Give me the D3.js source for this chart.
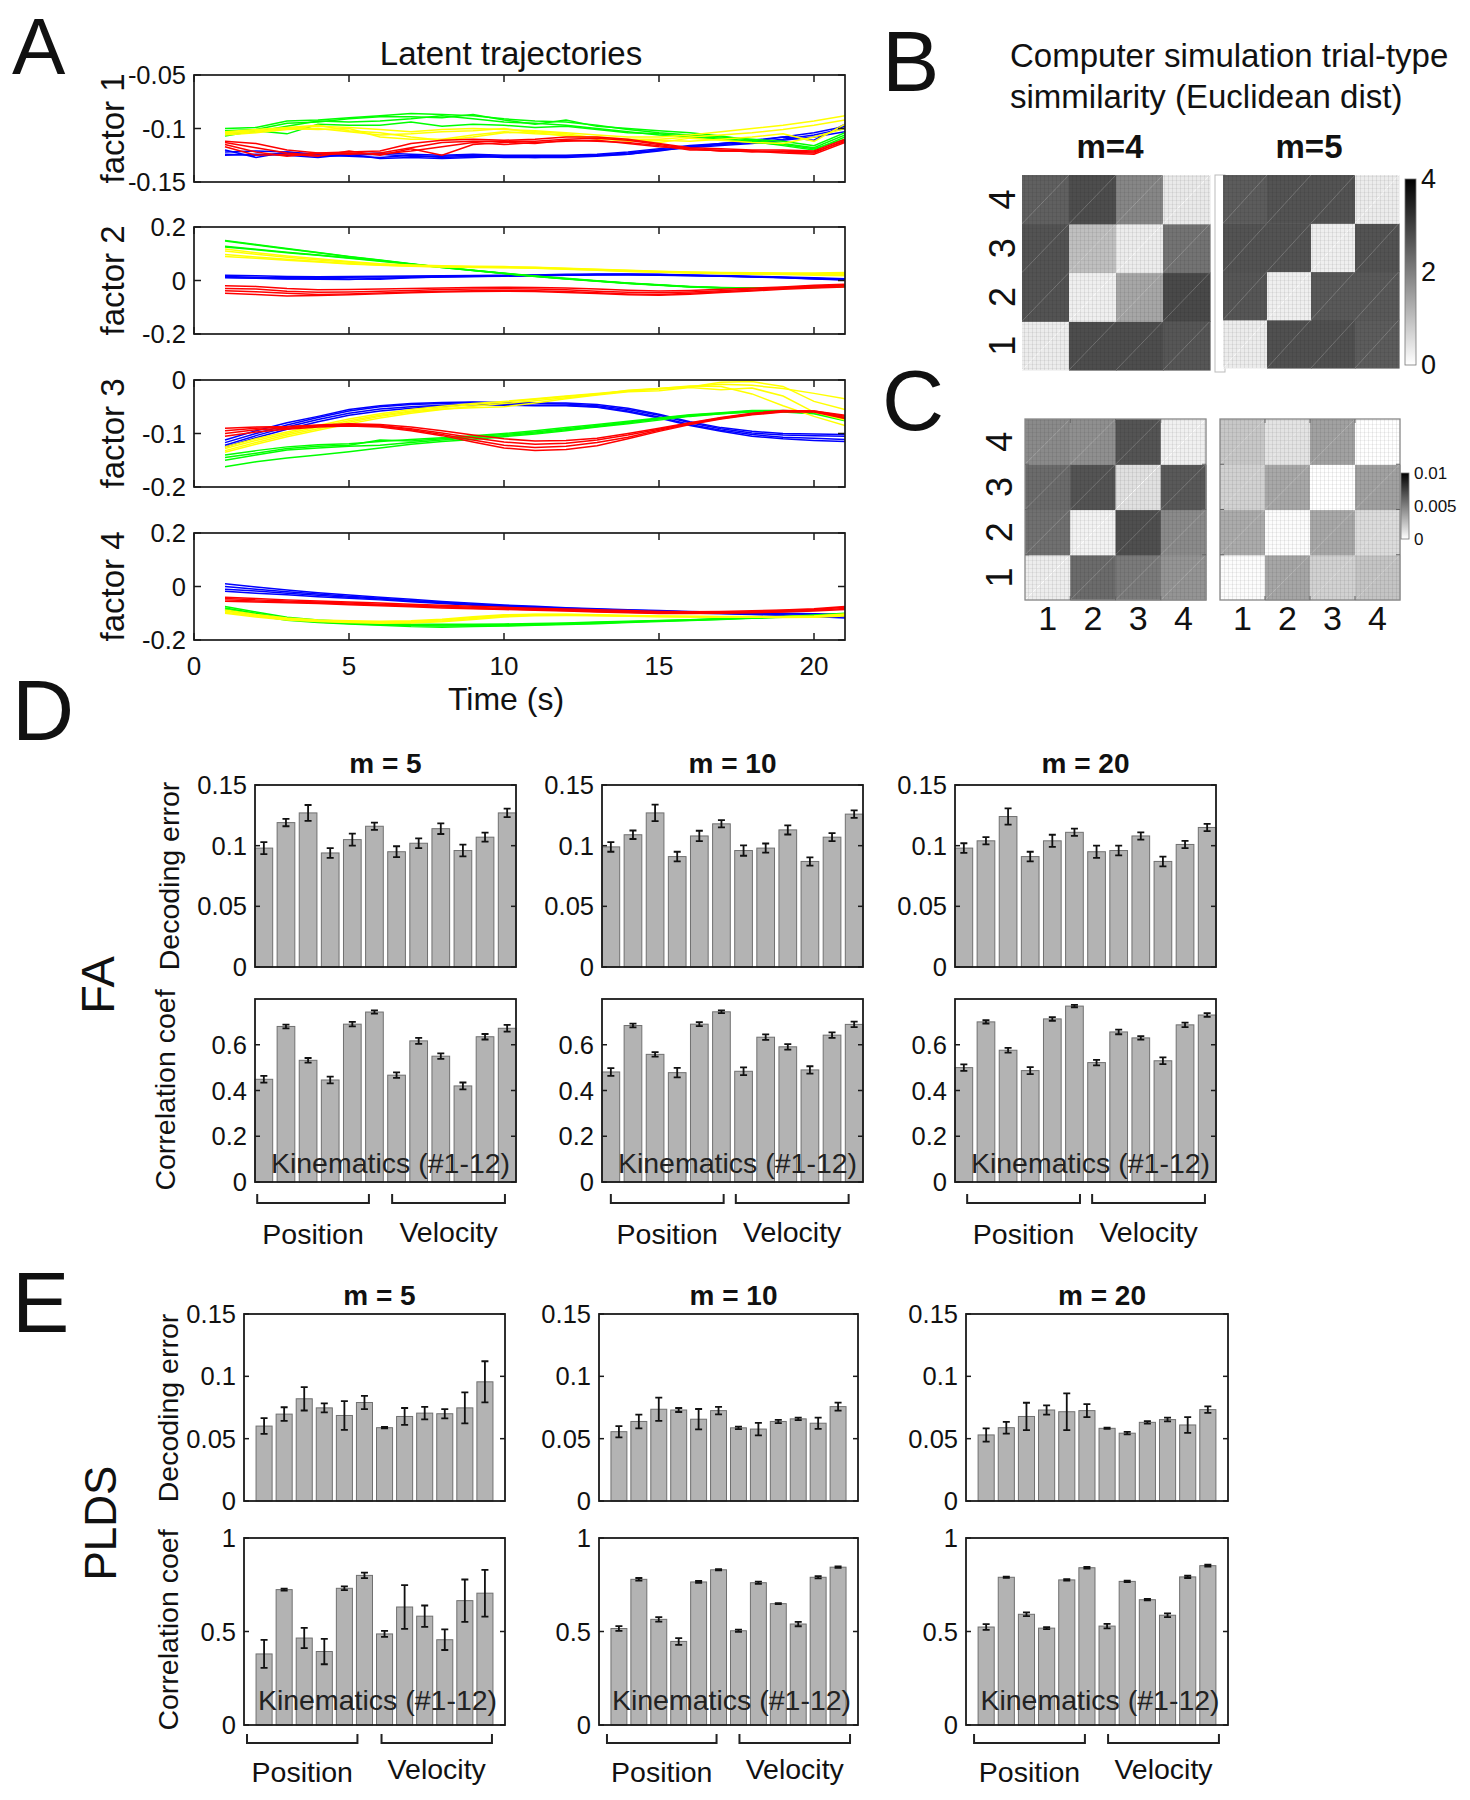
<!DOCTYPE html>
<html><head><meta charset="utf-8">
<script src="https://cdn.jsdelivr.net/npm/d3@7"></script>
<style>
body{margin:0;background:#fff}
svg{display:block}
text{font-family:'Liberation Sans',Arial,Helvetica,sans-serif;fill:#111}
</style>
</head><body><script>
// ===================== DATA =====================
const timeSteps=[1,2,3,4,5,6,7,8,9,10,11,12,13,14,15,16,17,18,19,20,21];
const timeTicks=[0,5,10,15,20];
const factorLabels=["factor 1","factor 2","factor 3","factor 4"];
const factorTicks=[[-0.15,-0.1,-0.05],[-0.2,0,0.2],[-0.2,-0.1,0],[-0.2,0,0.2]];
const factorDomains=[[-0.15,-0.05],[-0.2,0.2],[-0.2,0],[-0.2,0.2]];

// factor 1
const f1Blue=[
[-0.122,-0.121,-0.122,-0.124,-0.124,-0.123,-0.124,-0.125,-0.124,-0.125,-0.125,-0.125,-0.124,-0.122,-0.119,-0.116,-0.114,-0.112,-0.108,-0.104,-0.098],
[-0.124,-0.125,-0.123,-0.126,-0.125,-0.124,-0.126,-0.126,-0.125,-0.126,-0.126,-0.126,-0.125,-0.123,-0.120,-0.117,-0.115,-0.113,-0.110,-0.106,-0.100],
[-0.120,-0.127,-0.122,-0.125,-0.126,-0.127,-0.125,-0.127,-0.126,-0.127,-0.127,-0.127,-0.126,-0.124,-0.121,-0.117,-0.114,-0.111,-0.108,-0.111,-0.096],
[-0.125,-0.124,-0.125,-0.127,-0.124,-0.128,-0.127,-0.128,-0.127,-0.126,-0.127,-0.126,-0.125,-0.124,-0.120,-0.118,-0.116,-0.114,-0.111,-0.108,-0.103]];
const f1Green=[
[-0.100,-0.099,-0.093,-0.092,-0.090,-0.088,-0.086,-0.087,-0.088,-0.091,-0.093,-0.094,-0.097,-0.101,-0.104,-0.106,-0.108,-0.110,-0.112,-0.116,-0.104],
[-0.102,-0.101,-0.095,-0.094,-0.091,-0.089,-0.089,-0.090,-0.087,-0.092,-0.096,-0.092,-0.098,-0.100,-0.102,-0.104,-0.107,-0.111,-0.114,-0.118,-0.106],
[-0.105,-0.103,-0.098,-0.093,-0.094,-0.093,-0.091,-0.088,-0.091,-0.094,-0.095,-0.097,-0.100,-0.103,-0.106,-0.107,-0.109,-0.112,-0.116,-0.120,-0.108],
[-0.107,-0.102,-0.105,-0.096,-0.097,-0.097,-0.094,-0.098,-0.096,-0.097,-0.099,-0.098,-0.101,-0.104,-0.105,-0.108,-0.110,-0.113,-0.115,-0.119,-0.110]];
const f1Yellow=[
[-0.104,-0.102,-0.100,-0.098,-0.099,-0.101,-0.103,-0.101,-0.100,-0.101,-0.102,-0.104,-0.106,-0.108,-0.108,-0.106,-0.103,-0.100,-0.097,-0.093,-0.088],
[-0.106,-0.104,-0.101,-0.100,-0.103,-0.106,-0.105,-0.103,-0.102,-0.100,-0.104,-0.107,-0.108,-0.110,-0.110,-0.108,-0.106,-0.104,-0.101,-0.097,-0.092],
[-0.103,-0.101,-0.099,-0.097,-0.102,-0.104,-0.108,-0.111,-0.108,-0.104,-0.103,-0.105,-0.109,-0.112,-0.111,-0.112,-0.110,-0.108,-0.105,-0.112,-0.096],
[-0.105,-0.103,-0.100,-0.101,-0.100,-0.108,-0.110,-0.110,-0.106,-0.103,-0.105,-0.106,-0.110,-0.111,-0.113,-0.109,-0.111,-0.113,-0.114,-0.108,-0.100]];
const f1Red=[
[-0.112,-0.114,-0.120,-0.123,-0.122,-0.121,-0.114,-0.111,-0.110,-0.111,-0.110,-0.108,-0.108,-0.110,-0.114,-0.118,-0.119,-0.120,-0.120,-0.121,-0.110],
[-0.115,-0.122,-0.126,-0.123,-0.124,-0.123,-0.118,-0.113,-0.112,-0.112,-0.112,-0.110,-0.109,-0.111,-0.115,-0.119,-0.121,-0.121,-0.122,-0.123,-0.111],
[-0.117,-0.125,-0.124,-0.126,-0.121,-0.125,-0.119,-0.125,-0.115,-0.113,-0.114,-0.111,-0.112,-0.113,-0.116,-0.120,-0.120,-0.122,-0.121,-0.122,-0.112],
[-0.113,-0.118,-0.123,-0.125,-0.123,-0.124,-0.121,-0.117,-0.113,-0.115,-0.113,-0.112,-0.111,-0.114,-0.117,-0.119,-0.121,-0.121,-0.123,-0.124,-0.113]];
// factor 2
const f2Blue=[
[0.020,0.018,0.015,0.014,0.015,0.016,0.017,0.018,0.019,0.020,0.021,0.023,0.024,0.024,0.023,0.021,0.019,0.016,0.013,0.010,0.007],
[0.015,0.012,0.010,0.010,0.012,0.013,0.014,0.016,0.017,0.018,0.020,0.021,0.022,0.022,0.021,0.019,0.017,0.014,0.011,0.008,0.004],
[0.010,0.008,0.006,0.005,0.004,0.008,0.011,0.013,0.015,0.016,0.018,0.020,0.021,0.021,0.020,0.018,0.016,0.013,0.010,0.006,0.002],
[0.012,0.009,0.007,0.008,0.006,0.005,0.010,0.013,0.015,0.017,0.019,0.020,0.022,0.023,0.022,0.020,0.017,0.014,0.011,0.007,0.003]];
const f2Green=[
[0.150,0.135,0.120,0.105,0.090,0.077,0.063,0.050,0.038,0.027,0.016,0.007,-0.002,-0.010,-0.017,-0.023,-0.027,-0.029,-0.028,-0.025,-0.020],
[0.148,0.133,0.118,0.104,0.089,0.076,0.062,0.049,0.037,0.026,0.015,0.006,-0.003,-0.011,-0.018,-0.024,-0.028,-0.030,-0.029,-0.026,-0.021],
[0.128,0.117,0.106,0.095,0.085,0.074,0.062,0.050,0.038,0.027,0.017,0.008,-0.001,-0.009,-0.016,-0.022,-0.026,-0.028,-0.028,-0.025,-0.020],
[0.125,0.115,0.104,0.094,0.083,0.072,0.061,0.049,0.037,0.026,0.016,0.007,-0.002,-0.010,-0.017,-0.023,-0.027,-0.029,-0.029,-0.026,-0.022]];
const f2Yellow=[
[0.118,0.104,0.092,0.081,0.071,0.063,0.058,0.055,0.053,0.052,0.050,0.046,0.042,0.038,0.035,0.032,0.030,0.029,0.028,0.028,0.030],
[0.110,0.098,0.087,0.077,0.068,0.061,0.056,0.053,0.051,0.050,0.049,0.045,0.041,0.037,0.034,0.031,0.029,0.027,0.026,0.025,0.027],
[0.097,0.088,0.079,0.071,0.064,0.058,0.054,0.051,0.050,0.049,0.047,0.043,0.039,0.035,0.032,0.029,0.027,0.025,0.024,0.023,0.022],
[0.090,0.083,0.076,0.069,0.062,0.057,0.053,0.050,0.049,0.048,0.046,0.042,0.038,0.034,0.031,0.028,0.025,0.023,0.022,0.020,0.018]];
const f2Red=[
[-0.020,-0.022,-0.030,-0.035,-0.034,-0.032,-0.030,-0.028,-0.026,-0.025,-0.026,-0.028,-0.032,-0.036,-0.039,-0.037,-0.033,-0.029,-0.024,-0.018,-0.014],
[-0.030,-0.032,-0.040,-0.044,-0.043,-0.040,-0.037,-0.034,-0.032,-0.031,-0.032,-0.035,-0.040,-0.044,-0.046,-0.043,-0.038,-0.032,-0.026,-0.021,-0.017],
[-0.038,-0.042,-0.048,-0.052,-0.050,-0.047,-0.043,-0.040,-0.038,-0.037,-0.038,-0.041,-0.046,-0.050,-0.052,-0.048,-0.042,-0.036,-0.030,-0.024,-0.020],
[-0.048,-0.052,-0.058,-0.056,-0.053,-0.050,-0.046,-0.043,-0.041,-0.040,-0.041,-0.045,-0.049,-0.053,-0.055,-0.051,-0.045,-0.039,-0.033,-0.028,-0.024]];
// factor 3
const f3Blue=[
[-0.112,-0.095,-0.080,-0.068,-0.055,-0.048,-0.044,-0.042,-0.041,-0.042,-0.043,-0.043,-0.046,-0.053,-0.064,-0.078,-0.089,-0.096,-0.100,-0.101,-0.102],
[-0.117,-0.100,-0.084,-0.070,-0.058,-0.050,-0.046,-0.044,-0.042,-0.043,-0.044,-0.045,-0.048,-0.055,-0.066,-0.080,-0.091,-0.099,-0.103,-0.104,-0.105],
[-0.122,-0.104,-0.088,-0.074,-0.062,-0.054,-0.050,-0.047,-0.045,-0.046,-0.047,-0.047,-0.050,-0.058,-0.069,-0.083,-0.094,-0.102,-0.107,-0.109,-0.111],
[-0.125,-0.108,-0.092,-0.078,-0.066,-0.058,-0.053,-0.049,-0.046,-0.047,-0.048,-0.048,-0.051,-0.060,-0.071,-0.085,-0.096,-0.105,-0.110,-0.113,-0.115]];
const f3Green=[
[-0.140,-0.132,-0.125,-0.121,-0.119,-0.115,-0.111,-0.108,-0.104,-0.100,-0.095,-0.089,-0.083,-0.077,-0.071,-0.065,-0.061,-0.057,-0.057,-0.060,-0.070],
[-0.145,-0.137,-0.128,-0.124,-0.122,-0.112,-0.114,-0.110,-0.106,-0.102,-0.097,-0.091,-0.085,-0.079,-0.072,-0.066,-0.062,-0.058,-0.058,-0.061,-0.072],
[-0.150,-0.140,-0.131,-0.127,-0.124,-0.122,-0.117,-0.112,-0.108,-0.104,-0.099,-0.093,-0.087,-0.080,-0.073,-0.067,-0.063,-0.059,-0.059,-0.062,-0.074],
[-0.162,-0.153,-0.146,-0.140,-0.134,-0.127,-0.120,-0.115,-0.111,-0.106,-0.101,-0.095,-0.088,-0.082,-0.075,-0.068,-0.063,-0.060,-0.060,-0.063,-0.076]];
const f3Yellow=[
[-0.125,-0.110,-0.097,-0.085,-0.073,-0.063,-0.055,-0.049,-0.044,-0.040,-0.035,-0.030,-0.025,-0.020,-0.016,-0.012,-0.008,-0.010,-0.016,-0.025,-0.035],
[-0.128,-0.113,-0.100,-0.088,-0.076,-0.066,-0.058,-0.052,-0.046,-0.041,-0.036,-0.031,-0.026,-0.021,-0.017,-0.013,-0.004,-0.003,-0.012,-0.040,-0.055],
[-0.132,-0.117,-0.103,-0.091,-0.079,-0.068,-0.060,-0.054,-0.052,-0.050,-0.043,-0.035,-0.028,-0.022,-0.020,-0.014,-0.018,-0.015,-0.030,-0.060,-0.075],
[-0.135,-0.120,-0.106,-0.094,-0.082,-0.071,-0.062,-0.055,-0.049,-0.044,-0.039,-0.033,-0.027,-0.019,-0.016,-0.011,-0.012,-0.026,-0.048,-0.068,-0.085]];
const f3Red=[
[-0.090,-0.088,-0.087,-0.084,-0.082,-0.083,-0.088,-0.095,-0.103,-0.110,-0.114,-0.113,-0.109,-0.100,-0.090,-0.080,-0.070,-0.062,-0.057,-0.058,-0.066],
[-0.095,-0.090,-0.088,-0.085,-0.083,-0.085,-0.091,-0.099,-0.108,-0.116,-0.120,-0.118,-0.112,-0.103,-0.092,-0.081,-0.071,-0.063,-0.058,-0.058,-0.068],
[-0.100,-0.093,-0.090,-0.086,-0.084,-0.086,-0.093,-0.102,-0.112,-0.122,-0.126,-0.124,-0.117,-0.107,-0.094,-0.082,-0.072,-0.064,-0.059,-0.059,-0.070],
[-0.105,-0.097,-0.092,-0.088,-0.086,-0.088,-0.095,-0.104,-0.116,-0.127,-0.132,-0.130,-0.123,-0.110,-0.096,-0.083,-0.073,-0.065,-0.060,-0.060,-0.072]];
// factor 4
const f4Blue=[
[0.010,-0.002,-0.013,-0.023,-0.032,-0.040,-0.048,-0.056,-0.063,-0.069,-0.074,-0.079,-0.083,-0.087,-0.090,-0.093,-0.096,-0.098,-0.100,-0.102,-0.104],
[0.000,-0.010,-0.020,-0.028,-0.036,-0.044,-0.052,-0.059,-0.066,-0.072,-0.077,-0.081,-0.085,-0.089,-0.092,-0.095,-0.098,-0.100,-0.102,-0.105,-0.108],
[-0.010,-0.017,-0.025,-0.033,-0.040,-0.047,-0.054,-0.061,-0.068,-0.074,-0.079,-0.083,-0.087,-0.091,-0.094,-0.097,-0.100,-0.103,-0.106,-0.110,-0.113],
[-0.018,-0.025,-0.031,-0.038,-0.044,-0.050,-0.057,-0.064,-0.070,-0.076,-0.081,-0.085,-0.089,-0.093,-0.096,-0.099,-0.102,-0.105,-0.108,-0.112,-0.118]];
const f4Green=[
[-0.075,-0.095,-0.115,-0.125,-0.131,-0.136,-0.140,-0.141,-0.141,-0.140,-0.138,-0.136,-0.133,-0.130,-0.127,-0.124,-0.120,-0.116,-0.112,-0.107,-0.100],
[-0.080,-0.100,-0.120,-0.130,-0.135,-0.140,-0.143,-0.144,-0.144,-0.143,-0.141,-0.138,-0.135,-0.132,-0.128,-0.125,-0.121,-0.117,-0.113,-0.108,-0.102],
[-0.085,-0.104,-0.122,-0.133,-0.138,-0.143,-0.146,-0.148,-0.147,-0.146,-0.143,-0.140,-0.137,-0.133,-0.129,-0.126,-0.122,-0.118,-0.114,-0.109,-0.104],
[-0.088,-0.108,-0.126,-0.135,-0.140,-0.145,-0.150,-0.152,-0.150,-0.148,-0.145,-0.142,-0.139,-0.135,-0.131,-0.127,-0.123,-0.119,-0.115,-0.110,-0.106]];
const f4Yellow=[
[-0.088,-0.105,-0.118,-0.125,-0.128,-0.130,-0.128,-0.122,-0.113,-0.106,-0.104,-0.104,-0.106,-0.108,-0.110,-0.111,-0.112,-0.112,-0.112,-0.110,-0.103],
[-0.092,-0.108,-0.120,-0.127,-0.131,-0.133,-0.131,-0.125,-0.116,-0.108,-0.105,-0.105,-0.107,-0.109,-0.111,-0.112,-0.113,-0.113,-0.113,-0.111,-0.105],
[-0.096,-0.110,-0.122,-0.129,-0.133,-0.135,-0.134,-0.129,-0.120,-0.111,-0.107,-0.106,-0.108,-0.110,-0.112,-0.113,-0.114,-0.114,-0.114,-0.113,-0.107],
[-0.100,-0.114,-0.125,-0.131,-0.135,-0.137,-0.136,-0.132,-0.123,-0.114,-0.109,-0.108,-0.109,-0.111,-0.113,-0.114,-0.115,-0.115,-0.116,-0.115,-0.110]];
const f4Red=[
[-0.040,-0.045,-0.050,-0.054,-0.058,-0.062,-0.066,-0.070,-0.074,-0.078,-0.081,-0.084,-0.087,-0.090,-0.093,-0.094,-0.093,-0.091,-0.088,-0.083,-0.075],
[-0.045,-0.050,-0.054,-0.058,-0.062,-0.066,-0.070,-0.074,-0.078,-0.082,-0.085,-0.088,-0.091,-0.094,-0.097,-0.097,-0.096,-0.094,-0.090,-0.086,-0.078],
[-0.050,-0.054,-0.058,-0.061,-0.065,-0.069,-0.073,-0.077,-0.081,-0.084,-0.087,-0.090,-0.093,-0.096,-0.099,-0.099,-0.098,-0.096,-0.093,-0.089,-0.082],
[-0.055,-0.058,-0.061,-0.064,-0.068,-0.072,-0.076,-0.080,-0.083,-0.086,-0.089,-0.092,-0.095,-0.098,-0.101,-0.101,-0.100,-0.098,-0.095,-0.092,-0.086]];

// B: Euclidean distance block matrices (rows: trial type 1..4 bottom->top, cols 1..4)
const simM4=[[0.3,2.8,2.8,2.65],[2.7,0.25,1.4,2.85],[2.7,1.0,0.3,2.2],[2.5,2.8,1.9,0.35]];
const simM5=[[0.3,2.75,2.75,2.55],[2.65,0.25,2.6,2.6],[2.7,2.7,0.25,2.7],[2.55,2.7,2.7,0.3]];
const simTicks=[0,2,4];
// C: matrices (units of 0.001)
const cLeft=[[0.7,5.8,5.2,4.2],[5.6,0.5,6.9,4.6],[5.8,6.7,1.2,6.5],[4.6,4.4,6.7,0.6]];
const cRight=[[0.1,3.5,1.8,2.3],[3.3,0.1,3.4,1.4],[1.8,3.4,0.0,3.7],[2.2,1.1,3.7,0.0]];
const cTicks=[0,0.005,0.01];
const trialTypes=["1","2","3","4"];

// D/E bars (kinematics #1-12)
const latentDims=["m = 5","m = 10","m = 20"];
const faDec=[
[0.098,0.119,0.127,0.094,0.105,0.116,0.095,0.102,0.114,0.096,0.107,0.127],
[0.099,0.109,0.127,0.091,0.108,0.118,0.096,0.098,0.113,0.087,0.107,0.126],
[0.098,0.104,0.124,0.091,0.104,0.111,0.095,0.096,0.108,0.087,0.101,0.115]];
const faDecErr=[
[0.005,0.003,0.0065,0.004,0.005,0.003,0.0045,0.004,0.0044,0.0048,0.0037,0.0035],
[0.004,0.0035,0.0068,0.004,0.0043,0.003,0.0043,0.0038,0.0038,0.0034,0.0033,0.0031],
[0.004,0.003,0.0067,0.004,0.005,0.003,0.005,0.004,0.003,0.004,0.003,0.003]];
const faCorr=[
[0.449,0.680,0.532,0.446,0.690,0.743,0.467,0.617,0.550,0.420,0.635,0.672],
[0.481,0.684,0.558,0.478,0.690,0.744,0.484,0.633,0.591,0.490,0.642,0.689],
[0.500,0.700,0.576,0.487,0.713,0.769,0.522,0.656,0.630,0.530,0.687,0.730]];
const faCorrErr=[
[0.015,0.008,0.01,0.015,0.01,0.007,0.012,0.013,0.012,0.015,0.012,0.015],
[0.017,0.008,0.01,0.021,0.009,0.006,0.017,0.012,0.012,0.016,0.012,0.012],
[0.014,0.007,0.01,0.015,0.008,0.005,0.012,0.01,0.008,0.015,0.01,0.008]];
const pldsDec=[
[0.0601,0.0697,0.082,0.0747,0.0686,0.079,0.0588,0.0678,0.0705,0.070,0.0747,0.0956],
[0.0556,0.0638,0.0736,0.073,0.0656,0.0725,0.0587,0.0577,0.0638,0.0659,0.0624,0.0757],
[0.053,0.0588,0.0678,0.073,0.0716,0.0725,0.0583,0.0544,0.0631,0.0653,0.061,0.0733]];
const pldsDecErr=[
[0.0063,0.0055,0.0094,0.0036,0.0115,0.0053,0.0006,0.0068,0.005,0.0037,0.0125,0.0165],
[0.0045,0.0055,0.0093,0.0016,0.0082,0.003,0.001,0.005,0.0013,0.001,0.0045,0.0032],
[0.0053,0.0047,0.011,0.0037,0.0148,0.0052,0.0005,0.001,0.001,0.0015,0.0063,0.0026]];
const pldsCorr=[
[0.380,0.724,0.465,0.393,0.731,0.800,0.487,0.631,0.582,0.456,0.665,0.705],
[0.516,0.779,0.565,0.447,0.765,0.830,0.504,0.761,0.649,0.540,0.790,0.844],
[0.524,0.790,0.592,0.518,0.776,0.841,0.529,0.768,0.670,0.587,0.792,0.852]];
const pldsCorrErr=[
[0.075,0.005,0.054,0.068,0.01,0.015,0.016,0.117,0.057,0.055,0.113,0.125],
[0.013,0.007,0.012,0.018,0.005,0.003,0.006,0.006,0.003,0.012,0.006,0.004],
[0.015,0.003,0.01,0.005,0.004,0.004,0.012,0.004,0.004,0.01,0.006,0.005]];
const kinematics=[1,2,3,4,5,6,7,8,9,10,11,12];
const decTicks=[0,0.05,0.1,0.15];
const faCorrTicks=[0,0.2,0.4,0.6];
const pldsCorrTicks=[0,0.5,1];

// ===================== DRAWING =====================
const W=1470,H=1800;
const svg=d3.select('body').append('svg').attr('width',W).attr('height',H);
const defs=svg.append('defs');
const INK='#1a1a1a';
function txt(g,x,y,s,size,opts={}){
  const t=g.append('text').attr('x',x).attr('y',y).text(s).attr('font-size',size);
  if(opts.anchor) t.attr('text-anchor',opts.anchor);
  if(opts.weight) t.attr('font-weight',opts.weight);
  if(opts.rot){t.attr('transform',`rotate(-90,${x},${y})`).attr('dominant-baseline','central');}
  if(opts.base) t.attr('dominant-baseline',opts.base);
  return t;
}
// panel letters
[["A",12,74],["B",882,91],["C",882,430],["D",12,740],["E",12,1332]].forEach(([l,x,y])=>txt(svg,x,y,l,l==="A"?80:86));

// ---------- Panel A ----------
const aLeft=194,aRight=845,aH=107;
const aTops=[75,227,380,533];
const aSeries=[[f1Blue,f1Green,f1Yellow,f1Red],[f2Blue,f2Green,f2Yellow,f2Red],[f3Blue,f3Green,f3Yellow,f3Red],[f4Blue,f4Green,f4Yellow,f4Red]];
const aColors=['#0000ff','#00ff00','#ffff00','#ff0000'];
const xTime=d3.scaleLinear().domain([0,21]).range([aLeft,aRight]);
txt(svg,511,65,"Latent trajectories",33,{anchor:'middle'});
aTops.forEach((top,fi)=>{
  const g=svg.append('g');
  const y=d3.scaleLinear().domain(factorDomains[fi]).range([top+aH,top]);
  const cid='clipA'+fi;
  defs.append('clipPath').attr('id',cid).append('rect').attr('x',aLeft).attr('y',top).attr('width',aRight-aLeft).attr('height',aH);
  const lg=g.append('g').attr('clip-path',`url(#${cid})`);
  const line=d3.line().x((d,i)=>xTime(timeSteps[i])).y(d=>y(d));
  aSeries[fi].forEach((grp,ci)=>grp.forEach(tr=>{
    lg.append('path').attr('d',line(tr)).attr('fill','none').attr('stroke',aColors[ci]).attr('stroke-width',1.5);
  }));
  g.append('rect').attr('x',aLeft).attr('y',top).attr('width',aRight-aLeft).attr('height',aH).attr('fill','none').attr('stroke',INK).attr('stroke-width',1.7);
  timeTicks.forEach(t=>{
    g.append('line').attr('x1',xTime(t)).attr('x2',xTime(t)).attr('y1',top+aH).attr('y2',top+aH-7).attr('stroke',INK).attr('stroke-width',1.5);
    g.append('line').attr('x1',xTime(t)).attr('x2',xTime(t)).attr('y1',top).attr('y2',top+7).attr('stroke',INK).attr('stroke-width',1.5);
  });
  factorTicks[fi].forEach(v=>{
    g.append('line').attr('x1',aLeft).attr('x2',aLeft+7).attr('y1',y(v)).attr('y2',y(v)).attr('stroke',INK).attr('stroke-width',1.5);
    g.append('line').attr('x1',aRight).attr('x2',aRight-7).attr('y1',y(v)).attr('y2',y(v)).attr('stroke',INK).attr('stroke-width',1.5);
    txt(g,aLeft-8,y(v),String(v),25.5,{anchor:'end',base:'central'});
  });
  txt(g,112,top+aH/2,factorLabels[fi],33,{anchor:'middle',rot:true});
});
timeTicks.forEach(t=>txt(svg,xTime(t),675,String(t),26,{anchor:'middle'}));
txt(svg,506,710,"Time (s)",32,{anchor:'middle'});

// ---------- Heatmaps B / C ----------
const pat=defs.append('pattern').attr('id','tex').attr('width',4).attr('height',4).attr('patternUnits','userSpaceOnUse');
pat.append('rect').attr('x',0).attr('y',0).attr('width',1).attr('height',4).attr('fill','#000').attr('opacity',0.07);
pat.append('rect').attr('x',0).attr('y',0).attr('width',4).attr('height',1).attr('fill','#000').attr('opacity',0.05);
function heatmap(x,y,w,h,mat,maxV,opts={}){
  const g=svg.append('g');
  const xs=d3.scaleBand().domain([0,1,2,3]).range([x,x+w]);
  const ys=d3.scaleBand().domain([3,2,1,0]).range([y,y+h]);
  const col=d3.scaleLinear().domain([0,maxV]).range(['#ffffff','#000000']).clamp(true);
  mat.forEach((row,i)=>row.forEach((v,j)=>{
    g.append('rect').attr('x',xs(j)).attr('y',ys(i)).attr('width',xs.bandwidth()+0.6).attr('height',ys.bandwidth()+0.6).attr('fill',col(v));
    g.append('line').attr('x1',xs(j)).attr('y1',ys(i)+ys.bandwidth()).attr('x2',xs(j)+xs.bandwidth()).attr('y2',ys(i))
      .attr('stroke','#fff').attr('stroke-width',0.8).attr('opacity',i===j?0.9:0.25);
  }));
  g.append('rect').attr('x',x).attr('y',y).attr('width',w).attr('height',h).attr('fill','url(#tex)');
  if(opts.frame){
    g.append('rect').attr('x',x).attr('y',y).attr('width',w).attr('height',h).attr('fill','none').attr('stroke','#888').attr('stroke-width',1.3);
    [1,2,3].forEach(k=>{
      const xx=x+k*w/4, yy=y+k*h/4;
      g.append('line').attr('x1',xx).attr('x2',xx).attr('y1',y+h).attr('y2',y+h-4).attr('stroke','#666');
      g.append('line').attr('x1',xx).attr('x2',xx).attr('y1',y).attr('y2',y+4).attr('stroke','#666');
      g.append('line').attr('x1',x).attr('x2',x+4).attr('y1',yy).attr('y2',yy).attr('stroke','#666');
      g.append('line').attr('x1',x+w).attr('x2',x+w-4).attr('y1',yy).attr('y2',yy).attr('stroke','#666');
    });
  }
  return {xs,ys};
}
function colorbar(x,y,w,h,ticks,fs,fmt){
  const id='cb'+Math.round(x)+'_'+Math.round(y);
  const gr=defs.append('linearGradient').attr('id',id).attr('x1',0).attr('y1',1).attr('x2',0).attr('y2',0);
  gr.append('stop').attr('offset','0%').attr('stop-color','#fff');
  gr.append('stop').attr('offset','100%').attr('stop-color','#000');
  svg.append('rect').attr('x',x).attr('y',y).attr('width',w).attr('height',h).attr('fill',`url(#${id})`).attr('stroke','#777').attr('stroke-width',0.8);
  const s=d3.scaleLinear().domain([ticks[0],ticks[ticks.length-1]]).range([y+h,y]);
  ticks.forEach(t=>txt(svg,x+w+5,s(t),fmt(t),fs,{base:'central'}));
}
// B
txt(svg,1010,67,"Computer simulation trial-type",33);
txt(svg,1010,108,"simmilarity (Euclidean dist)",33);
txt(svg,1110,158,"m=4",33,{anchor:'middle',weight:'bold'});
txt(svg,1309,158,"m=5",33,{anchor:'middle',weight:'bold'});
const hb=heatmap(1022,175,188,195,simM4,4);
svg.append('rect').attr('x',1215).attr('y',175).attr('width',10).attr('height',197).attr('fill','#fff').attr('stroke','#bbb').attr('stroke-width',1);
heatmap(1223,175,176,193,simM5,4);
colorbar(1405,179,11,186,simTicks,27,String);
trialTypes.forEach((l,i)=>txt(svg,1002,hb.ys(i)+hb.ys.bandwidth()/2,l,36,{anchor:'middle',rot:true}));
// C
const hc=heatmap(1025,419,181,181,cLeft,10,{frame:true});
const hc2=heatmap(1220,419,180,181,cRight,10,{frame:true});
colorbar(1401,473,8,66,cTicks,17,String);
trialTypes.forEach((l,i)=>txt(svg,999,hc.ys(i)+hc.ys.bandwidth()/2,l,36,{anchor:'middle',rot:true}));
trialTypes.forEach((l,i)=>{
  txt(svg,hc.xs(i)+hc.xs.bandwidth()/2,630,l,34,{anchor:'middle'});
  txt(svg,hc2.xs(i)+hc2.xs.bandwidth()/2,630,l,34,{anchor:'middle'});
});

// ---------- Bar panels D / E ----------
function barPlot(x0,y0,w,h,xDom,yMax,ticks,vals,errs){
  const g=svg.append('g');
  const xs=d3.scaleLinear().domain(xDom).range([x0,x0+w]);
  const ys=d3.scaleLinear().domain([0,yMax]).range([y0+h,y0]);
  const bw=xs(0.8)-xs(0);
  kinematics.forEach((k,i)=>{
    g.append('rect').attr('x',xs(k-0.4)).attr('y',ys(vals[i])).attr('width',bw).attr('height',ys(0)-ys(vals[i]))
      .attr('fill','#b3b3b3').attr('stroke','#707070').attr('stroke-width',1);
  });
  kinematics.forEach((k,i)=>{
    const cx=xs(k), a=ys(vals[i]-errs[i]), b=ys(vals[i]+errs[i]);
    g.append('path').attr('d',`M${cx},${a}V${b}M${cx-3.5},${a}H${cx+3.5}M${cx-3.5},${b}H${cx+3.5}`).attr('stroke','#111').attr('stroke-width',1.8).attr('fill','none');
  });
  g.append('rect').attr('x',x0).attr('y',y0).attr('width',w).attr('height',h).attr('fill','none').attr('stroke',INK).attr('stroke-width',1.8);
  ticks.forEach(t=>{
    g.append('line').attr('x1',x0).attr('x2',x0+5).attr('y1',ys(t)).attr('y2',ys(t)).attr('stroke',INK).attr('stroke-width',1.5);
    g.append('line').attr('x1',x0+w).attr('x2',x0+w-5).attr('y1',ys(t)).attr('y2',ys(t)).attr('stroke',INK).attr('stroke-width',1.5);
    txt(g,x0-8,ys(t),String(t),25.5,{anchor:'end',base:'central'});
  });
  return {xs,ys};
}
function bracket(xs,a,b,y){
  svg.append('path').attr('d',`M${xs(a)},${y-9}V${y}H${xs(b)}V${y-9}`).attr('fill','none').attr('stroke','#222').attr('stroke-width',2);
}
// D (FA)
const dCols=[{x:255,w:261,pos:[0.7,5.75],vel:[6.8,11.9]},{x:602,w:261,pos:[1.0,6.1],vel:[6.65,11.75]},{x:955,w:261,pos:[1.15,6.25],vel:[6.8,11.9]}];
dCols.forEach((c,i)=>{
  txt(svg,c.x+c.w/2,773,latentDims[i],28,{anchor:'middle',weight:'bold'});
  barPlot(c.x,785,c.w,182,[0.6,12.4],0.15,decTicks,faDec[i],faDecErr[i]);
  const p=barPlot(c.x,999,c.w,183,[0.6,12.4],0.8,faCorrTicks,faCorr[i],faCorrErr[i]);
  txt(svg,c.x+c.w/2+5,1173,"Kinematics (#1-12)",28.5,{anchor:'middle'}).style('fill','#222');
  bracket(p.xs,c.pos[0],c.pos[1],1203);
  bracket(p.xs,c.vel[0],c.vel[1],1203);
  txt(svg,p.xs((c.pos[0]+c.pos[1])/2),1244,"Position",28.5,{anchor:'middle'});
  txt(svg,p.xs((c.vel[0]+c.vel[1])/2),1242,"Velocity",28.5,{anchor:'middle'});
});
txt(svg,97,985,"FA",47,{anchor:'middle',rot:true});
txt(svg,169,876,"Decoding error",28.5,{anchor:'middle',rot:true});
txt(svg,165,1090,"Correlation coef",28.5,{anchor:'middle',rot:true});
// E (PLDS)
const eCols=[{x:244,w:261,pos:[0.15,5.65],vel:[6.85,12.35]},{x:599,w:259,pos:[0.4,5.9],vel:[7.05,12.6]},{x:966,w:262,pos:[0.4,5.9],vel:[7.05,12.55]}];
eCols.forEach((c,i)=>{
  txt(svg,c.x+c.w/2+5,1305,latentDims[i],28,{anchor:'middle',weight:'bold'});
  barPlot(c.x,1314,c.w,187,[0,13],0.15,decTicks,pldsDec[i],pldsDecErr[i]);
  const p=barPlot(c.x,1538,c.w,187,[0,13],1,pldsCorrTicks,pldsCorr[i],pldsCorrErr[i]);
  txt(svg,c.x+c.w/2+3,1710,"Kinematics (#1-12)",28.5,{anchor:'middle'}).style('fill','#222');
  bracket(p.xs,c.pos[0],c.pos[1],1743);
  bracket(p.xs,c.vel[0],c.vel[1],1743);
  txt(svg,p.xs((c.pos[0]+c.pos[1])/2),1782,"Position",28.5,{anchor:'middle'});
  txt(svg,p.xs((c.vel[0]+c.vel[1])/2),1779,"Velocity",28.5,{anchor:'middle'});
});
txt(svg,100,1523,"PLDS",44,{anchor:'middle',rot:true});
txt(svg,168,1408,"Decoding error",28.5,{anchor:'middle',rot:true});
txt(svg,168,1630,"Correlation coef",28.5,{anchor:'middle',rot:true});
</script></body></html>
